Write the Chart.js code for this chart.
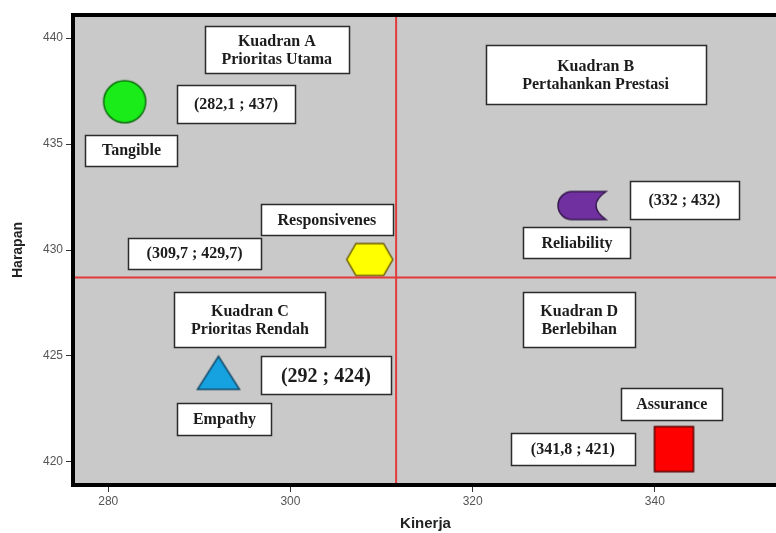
<!DOCTYPE html>
<html><head><meta charset="utf-8">
<script src="https://cdn.jsdelivr.net/npm/chart.js@4.4.1/dist/chart.umd.min.js"></script>
<style>html,body{margin:0;padding:0;background:#fff;}#wrap{width:776px;height:533px;position:relative;}</style>
</head><body><div id="wrap"><canvas id="c" width="776" height="533"></canvas></div>
<script>
// ---- data ----
const categories = ['Tangible','Responsivenes','Empathy','Reliability','Assurance'];
const kinerja = [281.8, 308.7, 292.1, 332.0, 342.1];
const harapan = [437.0, 429.55, 424.2, 432.1, 420.6];
const valueLabels = ['(282,1 ; 437)','(309,7 ; 429,7)','(292 ; 424)','(332 ; 432)','(341,8 ; 421)'];
const quadrantTitles = [['Kuadran A','Prioritas Utama'],['Kuadran B','Pertahankan Prestasi'],['Kuadran C','Prioritas Rendah'],['Kuadran D','Berlebihan']];
const kinerjaMean = 311.6;
const harapanMean = 428.7;
const xTicks = [280,300,320,340];
const yTicks = [420,425,430,435,440];
const xRange = [276.35, 353.3];
const yRange = [419, 441];

// ---- marker shapes ----
function mk(w,h,draw){const c=document.createElement('canvas');c.width=w+4;c.height=h+4;const g=c.getContext('2d');g.translate(2,2);draw(g,w,h);return c;}
const shapes = [
  mk(42,42,(g,w,h)=>{g.beginPath();g.arc(w/2,h/2,w/2,0,Math.PI*2);g.fillStyle='#19ec19';g.fill();g.lineWidth=1.5;g.strokeStyle='#0b6e0b';g.stroke();}),
  mk(46,32,(g,w,h)=>{g.beginPath();g.moveTo(w*0.2,0);g.lineTo(w*0.8,0);g.lineTo(w,h/2);g.lineTo(w*0.8,h);g.lineTo(w*0.2,h);g.lineTo(0,h/2);g.closePath();g.fillStyle='#ffff00';g.fill();g.lineWidth=1.5;g.strokeStyle='#6b5a00';g.stroke();}),
  mk(42,33,(g,w,h)=>{g.beginPath();g.moveTo(w/2,0);g.lineTo(w,h);g.lineTo(0,h);g.closePath();g.fillStyle='#16a2e0';g.fill();g.lineWidth=1.5;g.strokeStyle='#124a6a';g.stroke();}),
  mk(48,28,(g,w,h)=>{const r=h/2;g.beginPath();g.moveTo(r,0);g.lineTo(w,0);g.quadraticCurveTo(w-20,h/2,w,h);g.lineTo(r,h);g.arc(r,r,r,Math.PI/2,Math.PI*1.5);g.closePath();g.fillStyle='#7030a0';g.fill();g.lineWidth=1.5;g.strokeStyle='#35184d';g.stroke();}),
  mk(39,45,(g,w,h)=>{g.fillStyle='#ff0000';g.fillRect(0,0,w,h);g.lineWidth=1.5;g.strokeStyle='#5a0000';g.strokeRect(0,0,w,h);})
];

// ---- annotation boxes (data coordinates, px sizes) ----
const boxLayout = [
 {kind:'quad', i:0, x:298.5, y:439.46, w:144, h:47},
 {kind:'quad', i:1, x:333.5, y:438.28, w:220, h:59},
 {kind:'quad', i:2, x:295.55, y:426.71, w:151, h:55},
 {kind:'quad', i:3, x:331.7, y:426.71, w:112, h:55},
 {kind:'name', i:0, x:282.55, y:434.72, w:92, h:31},
 {kind:'value', i:0, x:294.02, y:436.89, w:118, h:38},
 {kind:'name', i:1, x:304.0, y:431.44, w:132, h:31},
 {kind:'value', i:1, x:289.48, y:429.85, w:133, h:31},
 {kind:'name', i:2, x:292.76, y:422.03, w:94, h:32},
 {kind:'value', i:2, x:303.89, y:424.08, w:130, h:38, size:20},
 {kind:'name', i:3, x:331.45, y:430.35, w:107, h:31},
 {kind:'value', i:3, x:343.25, y:432.35, w:109, h:38},
 {kind:'name', i:4, x:341.85, y:422.75, w:101, h:32},
 {kind:'value', i:4, x:331.0, y:420.59, w:124, h:32}
];

const framePlugin = {
  id:'frame',
  beforeDatasetsDraw(chart){
    const {ctx,chartArea:a}=chart;
    ctx.save();ctx.fillStyle='#c9c9c9';ctx.fillRect(a.left,a.top,a.right-a.left,a.bottom-a.top);ctx.restore();
  },
  afterDatasetsDraw(chart){
    const {ctx,chartArea:a,scales}=chart;
    ctx.save();
    boxLayout.forEach(b=>{
      const cx=scales.x.getPixelForValue(b.x), cy=scales.y.getPixelForValue(b.y);
      const lines = b.kind==='quad'?quadrantTitles[b.i]:(b.kind==='name'?[categories[b.i]]:[valueLabels[b.i]]);
      const x0=Math.round(cx-b.w/2)+0.5, y0=Math.round(cy-b.h/2)+0.5;
      ctx.fillStyle='#ffffff';ctx.fillRect(x0,y0,b.w,b.h);
      ctx.lineWidth=1.5;ctx.strokeStyle='#2b2b2b';ctx.strokeRect(x0,y0,b.w,b.h);
      const fs=b.size||16;
      ctx.font='bold '+fs+'px "Liberation Serif", "Times New Roman", serif';
      ctx.fillStyle='#1c1c1c';ctx.textAlign='center';ctx.textBaseline='middle';
      const lh=18;
      lines.forEach((t,k)=>{ctx.fillText(t,cx,cy+(k-(lines.length-1)/2)*lh+1);});
    });
    ctx.strokeStyle='#000';ctx.lineWidth=4;
    ctx.beginPath();
    ctx.moveTo(a.right+4,a.top-2);ctx.lineTo(a.left-2,a.top-2);ctx.lineTo(a.left-2,a.bottom+2);ctx.lineTo(a.right+4,a.bottom+2);
    ctx.stroke();
    ctx.restore();
  }
};

new Chart(document.getElementById('c'),{
  type:'scatter',
  data:{datasets:[
    {data:[{x:kinerjaMean,y:yRange[0]},{x:kinerjaMean,y:yRange[1]}],showLine:true,borderColor:'#e23b3b',borderWidth:2,pointRadius:0},
    {data:[{x:xRange[0],y:harapanMean},{x:xRange[1],y:harapanMean}],showLine:true,borderColor:'#e23b3b',borderWidth:2,pointRadius:0},
    {data:kinerja.map((v,i)=>({x:v,y:harapan[i]})),pointStyle:shapes,pointRadius:20,showLine:false}
  ]},
  options:{
    responsive:false,animation:false,events:[],
    layout:{autoPadding:false,padding:{top:17,left:0,right:0,bottom:0}},
    plugins:{legend:{display:false},tooltip:{enabled:false}},
    scales:{
      x:{type:'linear',min:xRange[0],max:xRange[1],
        afterBuildTicks:ax=>{ax.ticks=xTicks.map(v=>({value:v}));},
        afterFit:ax=>{ax.height=50;ax.paddingLeft=0;ax.paddingRight=0;},
        grid:{drawOnChartArea:false,tickLength:9,color:'#333',tickWidth:1},
        border:{display:false},
        ticks:{padding:2,color:'#555',font:{family:'"Liberation Sans", Arial, sans-serif',size:12},maxRotation:0},
        title:{display:true,text:'Kinerja',color:'#222',font:{family:'"Liberation Sans", Arial, sans-serif',size:15,weight:'bold'},padding:{top:0,bottom:0}}
      },
      y:{type:'linear',min:yRange[0],max:yRange[1],
        afterBuildTicks:ax=>{ax.ticks=yTicks.map(v=>({value:v}));},
        afterFit:ax=>{ax.width=75;ax.paddingTop=0;ax.paddingBottom=0;},
        grid:{drawOnChartArea:false,tickLength:9,color:'#333',tickWidth:1},
        border:{display:false},
        ticks:{padding:3,color:'#555',font:{family:'"Liberation Sans", Arial, sans-serif',size:12}},
        title:{display:true,text:'Harapan',color:'#222',font:{family:'"Liberation Sans", Arial, sans-serif',size:14,weight:'bold'},padding:{top:10,bottom:0}}
      }
    }
  },
  plugins:[framePlugin]
});
</script></body></html>
